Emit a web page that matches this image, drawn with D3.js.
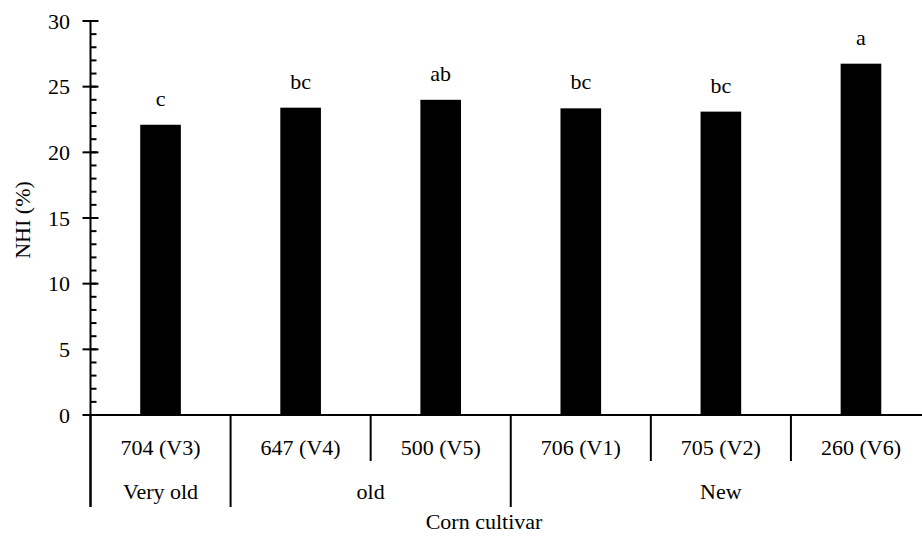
<!DOCTYPE html>
<html>
<head>
<meta charset="utf-8">
<script src="https://cdn.jsdelivr.net/npm/d3@7"></script>
<style>
	body { margin: 0; background: #fff; }
</style>
</head>
<body>
<svg id="chart" width="922" height="539"></svg>
<script>
var cultivars = ["704 (V3)", "647 (V4)", "500 (V5)", "706 (V1)", "705 (V2)", "260 (V6)"];
var nhi = [22.1, 23.4, 24.0, 23.35, 23.1, 26.75];
var letters = ["c", "bc", "ab", "bc", "bc", "a"];
var groups = ["Very old", "old", "New"];
var groupStart = [0, 1, 3];
var groupSize = [1, 2, 3];
var yTicks = [0, 5, 10, 15, 20, 25, 30];

var svg = d3.select("#chart")
	.attr("font-family", "'Liberation Serif', 'Noto Serif', 'Nimbus Roman', FreeSerif, 'Times New Roman', serif")
	.attr("font-size", 22);
var x0 = 90.5, x1 = 931, yBase = 415, yTop = 21;

var x = d3.scaleBand().domain(cultivars).range([x0, x1]);
var y = d3.scaleLinear().domain([0, 30]).range([yBase, yTop]);
var barW = x.bandwidth() * 0.29;

// bars
svg.selectAll(".bar").data(cultivars).enter().append("rect")
	.attr("x", function(d){ return x(d) + (x.bandwidth() - barW) / 2; })
	.attr("y", function(d, i){ return y(nhi[i]); })
	.attr("width", barW)
	.attr("height", function(d, i){ return y(0) - y(nhi[i]); })
	.attr("fill", "#000");

// letters above bars
svg.selectAll(".lbl").data(cultivars).enter().append("text")
	.attr("x", function(d){ return x(d) + x.bandwidth() / 2; })
	.attr("y", function(d, i){ return y(nhi[i]) - 19; })
	.attr("text-anchor", "middle")
	.text(function(d, i){ return letters[i]; });

// y axis
var yAxis = svg.append("g");
yAxis.append("line").attr("x1", x0).attr("x2", x0).attr("y1", yTop).attr("y2", 507)
	.attr("stroke", "#000").attr("stroke-width", 2);
yAxis.selectAll(".minor").data(d3.range(0, 31)).enter().append("line")
	.attr("x1", x0).attr("x2", x0 + 6)
	.attr("y1", function(d){ return y(d); }).attr("y2", function(d){ return y(d); })
	.attr("stroke", "#000").attr("stroke-width", 2);
yAxis.selectAll(".major").data(yTicks).enter().append("line")
	.attr("x1", x0 - 8).attr("x2", x0 + 8)
	.attr("y1", function(d){ return y(d); }).attr("y2", function(d){ return y(d); })
	.attr("stroke", "#000").attr("stroke-width", 2);
yAxis.selectAll(".tl").data(yTicks).enter().append("text")
	.attr("x", 70).attr("y", function(d){ return y(d); })
	.attr("dy", "0.35em")
	.attr("text-anchor", "end")
	.text(function(d){ return d; });

svg.append("text")
	.attr("transform", "translate(30,220) rotate(-90)")
	.attr("text-anchor", "middle")
	.text("NHI (%)");

// x axis
svg.append("line").attr("x1", x0).attr("x2", x1).attr("y1", yBase).attr("y2", yBase)
	.attr("stroke", "#000").attr("stroke-width", 2);

// separators: group boundaries long, inner ones short
var bounds = d3.range(0, cultivars.length + 1);
svg.selectAll(".sep").data(bounds).enter().append("line")
	.attr("x1", function(d){ return x0 + d * x.step(); })
	.attr("x2", function(d){ return x0 + d * x.step(); })
	.attr("y1", yBase)
	.attr("y2", function(d){ return (groupStart.indexOf(d) >= 0 || d == cultivars.length) ? 507 : 461; })
	.attr("stroke", "#000").attr("stroke-width", 2);

svg.selectAll(".cl").data(cultivars).enter().append("text")
	.attr("x", function(d){ return x(d) + x.bandwidth() / 2; })
	.attr("y", 455)
	.attr("text-anchor", "middle")
	.text(function(d){ return d; });

svg.selectAll(".gl").data(groups).enter().append("text")
	.attr("x", function(d, i){ return x0 + (groupStart[i] + groupSize[i] / 2) * x.step(); })
	.attr("y", 499)
	.attr("text-anchor", "middle")
	.text(function(d){ return d; });

svg.append("text")
	.attr("x", 484).attr("y", 529)
	.attr("text-anchor", "middle")
	.text("Corn cultivar");
</script>
</body>
</html>
